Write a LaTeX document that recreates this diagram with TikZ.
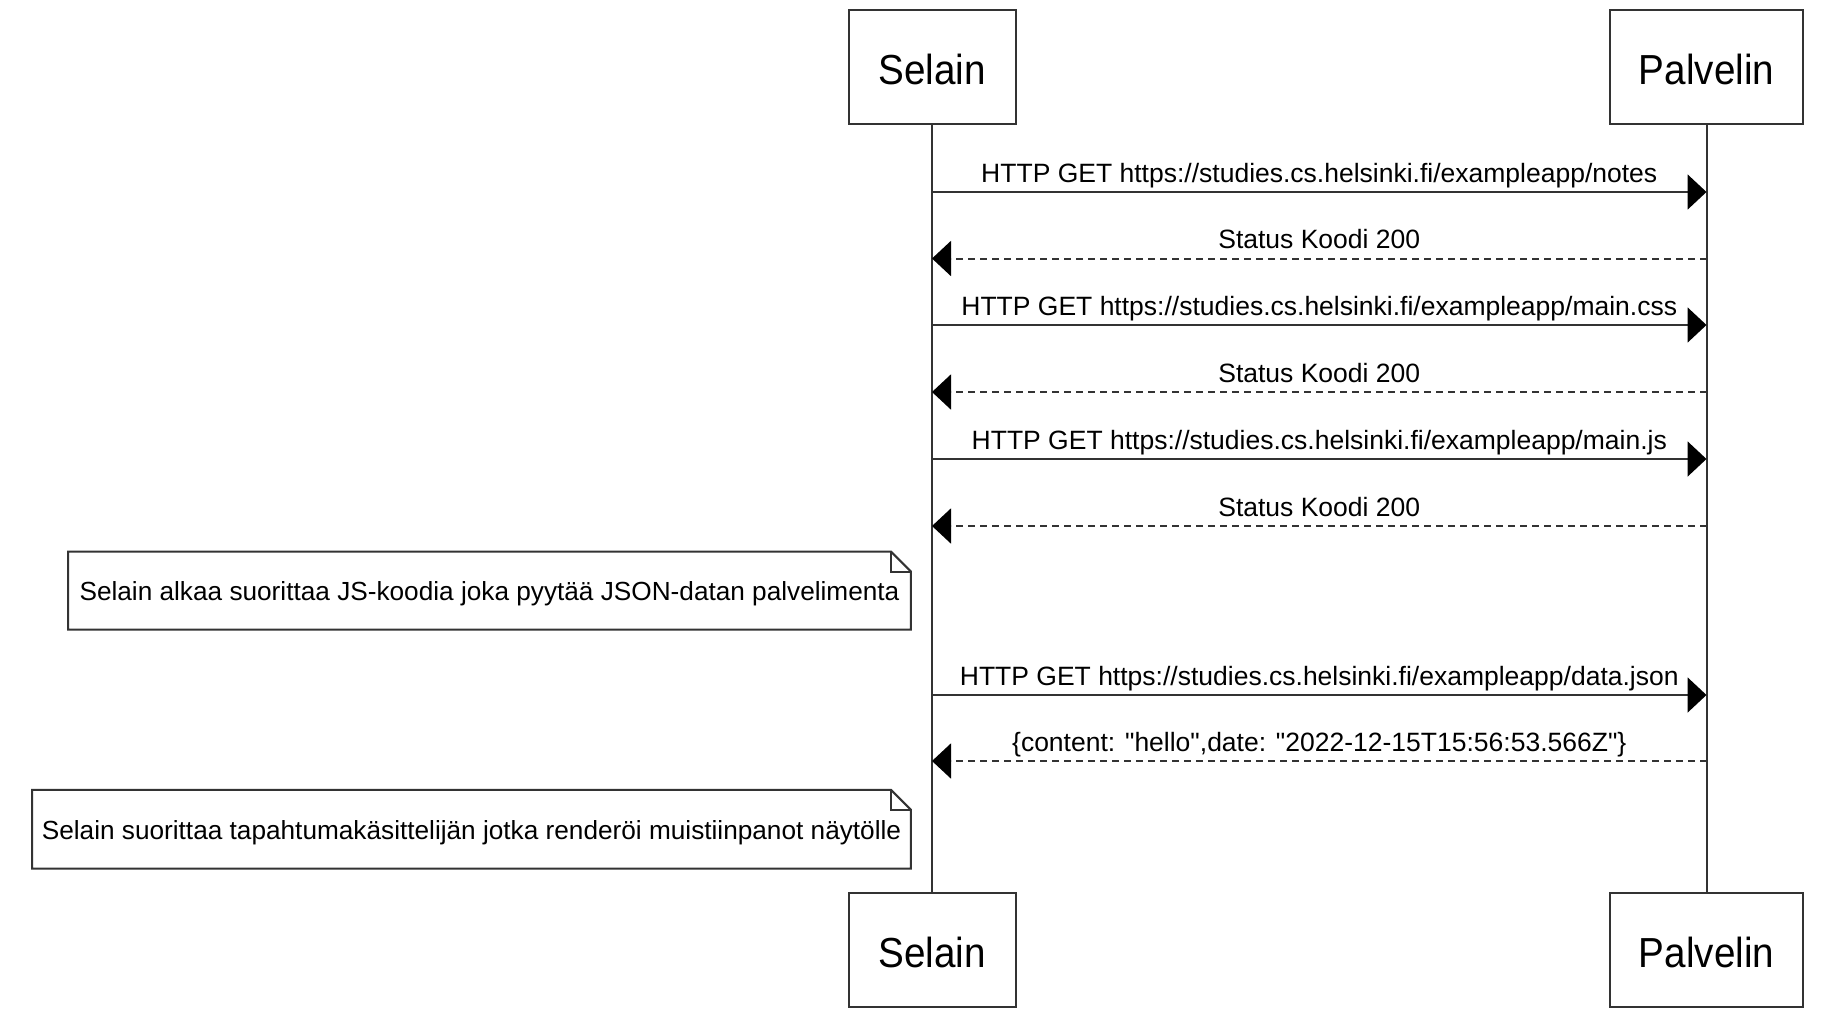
\documentclass[tikz,border=0pt]{standalone}
\usepackage{fontspec}
\setmainfont{Liberation Sans}[Ligatures=TeXOff]
\usetikzlibrary{arrows.meta}
\definecolor{ln}{HTML}{333333}
\newcommand\lowered[2]{\raisebox{-#1}[\height][\depth]{#2}}
\begin{document}
\begin{tikzpicture}[x=1pt,y=-1pt,
  actor/.style={draw=ln, line width=2pt, fill=white, minimum height=114pt, inner sep=0pt, font=\fontsize{42}{46}\selectfont, text=black},
  msg/.style={font=\fontsize{26.5}{30}\selectfont, text=black, anchor=base, inner sep=0pt},
  req/.style={draw=ln, line width=2pt, -{Triangle[length=19pt,width=35pt,color=black]}},
  resp/.style={req, dash pattern=on 7pt off 5pt},
  notetext/.style={font=\fontsize{26.2}{30}\selectfont, text=black, inner sep=0pt},
  noteline/.style={draw=ln, line width=2pt, line join=miter},
  life/.style={draw=ln, line width=2pt}
]
\useasboundingbox (0,0) rectangle (1848,1020);
% actors
\node[actor, minimum width=167pt] (s1) at (932,66.7) {\lowered{2.5pt}{\scalebox{0.92}[1]{Selain}}};
\node[actor, minimum width=193pt] (p1) at (1706.5,66.7) {\lowered{2.5pt}{\scalebox{0.92}[1]{Palvelin}}};
\node[actor, minimum width=167pt] (s2) at (932,950.3) {\lowered{2.5pt}{\scalebox{0.92}[1]{Selain}}};
\node[actor, minimum width=193pt] (p2) at (1706.5,950.3) {\lowered{2.5pt}{\scalebox{0.92}[1]{Palvelin}}};
% lifelines
\draw[life] (s1.south) -- (s2.north);
\draw[life] (p1.south) -- (p2.north);
% message end points
\foreach \i/\y in {1/192,2/258.5,3/325,4/392,5/459,6/526,7/695,8/761}{
  \coordinate (s\i) at (s1.south |- 0,\y);
  \coordinate (p\i) at (p1.south |- 0,\y);
}
% messages
\draw[req] (s1) -- (p1) node[msg, pos=0.5, yshift=10pt] (m1) {HTTP GET https://studies.cs.helsinki.fi/exampleapp/notes};
\draw[resp] (p2) -- (s2) node[msg, pos=0.5, yshift=10pt] (m2) {Status Koodi 200};
\draw[req] (s3) -- (p3) node[msg, pos=0.5, yshift=10pt] (m3) {HTTP GET https://studies.cs.helsinki.fi/exampleapp/main.css};
\draw[resp] (p4) -- (s4) node[msg, pos=0.5, yshift=10pt] (m4) {Status Koodi 200};
\draw[req] (s5) -- (p5) node[msg, pos=0.5, yshift=10pt] (m5) {HTTP GET https://studies.cs.helsinki.fi/exampleapp/main.js};
\draw[resp] (p6) -- (s6) node[msg, pos=0.5, yshift=10pt] (m6) {Status Koodi 200};
\draw[req] (s7) -- (p7) node[msg, pos=0.5, yshift=10pt] (m7) {HTTP GET https://studies.cs.helsinki.fi/exampleapp/data.json};
\draw[resp] (p8) -- (s8) node[msg, pos=0.5, yshift=10pt] (m8) {\{content: "hello",date: "2022-12-15T15:56:53.566Z"\}};
% notes
\node[notetext, minimum width=842.4pt, minimum height=77.6pt] (n1) at (489.5,590.5) {\lowered{3.5pt}{Selain alkaa suorittaa JS-koodia joka pyytää JSON-datan palvelimenta}};
\draw[noteline] (n1.north west) -- ([xshift=-20pt]n1.north east) -- ([yshift=-20pt]n1.north east) -- (n1.south east) -- (n1.south west) -- cycle;
\draw[noteline] ([xshift=-20pt]n1.north east) -- ([xshift=-20pt,yshift=-20pt]n1.north east) -- ([yshift=-20pt]n1.north east);
\node[notetext, minimum width=878.4pt, minimum height=78.3pt] (n2) at (471.5,829.15) {\lowered{3.5pt}{Selain suorittaa tapahtumakäsittelijän jotka renderöi muistiinpanot näytölle}};
\draw[noteline] (n2.north west) -- ([xshift=-20pt]n2.north east) -- ([yshift=-20pt]n2.north east) -- (n2.south east) -- (n2.south west) -- cycle;
\draw[noteline] ([xshift=-20pt]n2.north east) -- ([xshift=-20pt,yshift=-20pt]n2.north east) -- ([yshift=-20pt]n2.north east);
\end{tikzpicture}
\end{document}
